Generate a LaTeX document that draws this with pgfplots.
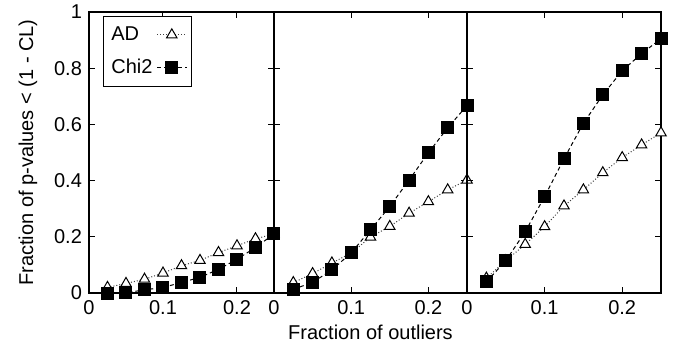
\documentclass[border=0pt]{standalone}
\usepackage{fontspec}
\setmainfont{Liberation Sans}
\usepackage{pgfplots}
\usepackage{pgfplotstable}
\pgfplotsset{compat=1.18}

\pgfplotstableread{
x ad chi
0.025 0.020 0.000
0.050 0.034 0.001
0.075 0.049 0.011
0.100 0.071 0.020
0.125 0.097 0.037
0.150 0.116 0.056
0.175 0.144 0.084
0.200 0.168 0.120
0.225 0.193 0.162
0.250 0.210 0.210
}\dataA

\pgfplotstableread{
x ad chi
0.025 0.037 0.013
0.050 0.069 0.038
0.075 0.107 0.082
0.100 0.142 0.143
0.125 0.199 0.225
0.150 0.237 0.308
0.175 0.284 0.402
0.200 0.325 0.499
0.225 0.367 0.588
0.250 0.402 0.667
}\dataB

\pgfplotstableread{
x ad chi
0.025 0.053 0.040
0.050 0.115 0.115
0.075 0.173 0.218
0.100 0.236 0.343
0.125 0.310 0.478
0.150 0.367 0.604
0.175 0.428 0.705
0.200 0.482 0.791
0.225 0.527 0.852
0.250 0.570 0.905
}\dataC

\pgfplotsset{
  panel/.style={
    scale only axis, height=140.5pt,
    xmin=0, xmax=0.25, ymin=0, ymax=1,
    xtick={0,0.1,0.2}, ytick={0,0.2,0.4,0.6,0.8,1},
    tick align=inside, major tick length=3pt,
    axis line style={line width=0.7pt},
    every tick/.style={black, line width=0.5pt},
    clip=false,
    font=\fontsize{10}{12}\selectfont,
    tick label style={font=\fontsize{10}{12}\selectfont},
    /pgf/number format/assume math mode=true,
    anchor=south west,
  },
  adstyle/.style={black!75, densely dotted, line width=0.5pt, mark=triangle*, mark size=3pt,
    mark options={solid, fill=white, draw=black, line width=0.5pt}},
  chistyle/.style={black, dash pattern=on 2pt off 1.5pt, line width=0.5pt, mark=square*, mark size=3pt,
    mark options={solid, fill=black}},
}

\begin{document}
\begin{tikzpicture}
\path[use as bounding box] (0,0) rectangle (338pt,174.5pt);

\begin{axis}[panel, at={(44.5pt,28pt)}, width=92.5pt,
  ylabel={Fraction of p-values < (1 - CL)},
  ylabel style={at={(axis description cs:-0.33,0.5)}, anchor=center},
  legend plot pos=right,
  legend cell align=left,
  legend image code/.code={\draw[mark repeat=2,mark phase=2] plot coordinates {(0cm,0cm) (0.26cm,0cm) (0.52cm,0cm)};},
  legend style={at={(axis description cs:0.075,0.986)}, anchor=north west, draw=black, line width=0.5pt,
    row sep=4pt, inner xsep=2pt, inner ysep=3pt, font=\fontsize{10}{12}\selectfont},
]
\addplot[adstyle] table[x=x, y=ad] {\dataA};
\addlegendentry{AD}
\addplot[chistyle] table[x=x, y=chi] {\dataA};
\addlegendentry{Chi2}
\end{axis}

\begin{axis}[panel, at={(137pt,28pt)}, width=96.5pt, yticklabels={},
  xlabel={Fraction of outliers},
  xlabel style={at={(axis description cs:0.5,-0.139)}, anchor=center},
]
\addplot[adstyle] table[x=x, y=ad] {\dataB};
\addplot[chistyle] table[x=x, y=chi] {\dataB};
\end{axis}

\begin{axis}[panel, at={(233.5pt,28pt)}, width=97pt, yticklabels={}]
\addplot[adstyle] table[x=x, y=ad] {\dataC};
\addplot[chistyle] table[x=x, y=chi] {\dataC};
\end{axis}
\end{tikzpicture}
\end{document}
